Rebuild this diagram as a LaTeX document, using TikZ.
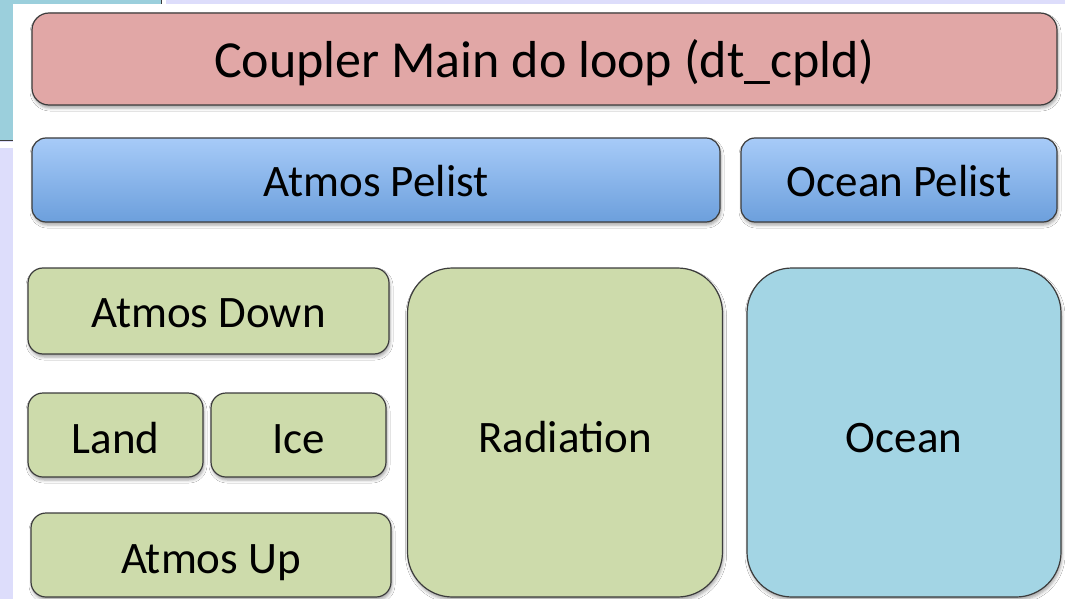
\documentclass[tikz,border=0pt]{standalone}
\usepackage{fontspec}
\setmainfont{Carlito}
\usepackage{tikz}
\usetikzlibrary{shadows.blur}
\definecolor{slidebg}{RGB}{221,221,251}
\definecolor{panelcyan}{RGB}{155,207,220}
\definecolor{cplpink}{RGB}{225,167,166}
\definecolor{peltop}{RGB}{167,203,248}
\definecolor{pelbot}{RGB}{108,159,220}
\definecolor{compgreen}{RGB}{205,219,171}
\definecolor{ocnblue}{RGB}{163,213,228}
\definecolor{edgegray}{RGB}{60,60,60}
\tikzset{
  font={\fontsize{45pt}{54pt}\selectfont},
  box/.style={draw=edgegray, line width=1.2pt, rounded corners=15pt, inner sep=0pt,
    align=center, text=black, text height=32pt, text depth=0pt,
    blur shadow={shadow xshift=1pt, shadow yshift=-3pt, shadow blur radius=3pt, shadow opacity=35}},
  coupler/.style={box, fill=cplpink, rounded corners=17pt, text height=37pt,
    font={\fontsize{52pt}{62pt}\selectfont}},
  pelist/.style={box, top color=peltop, bottom color=pelbot, rounded corners=14pt},
  comp/.style={box, fill=compgreen},
  bigcomp/.style={box, rounded corners=45pt, text height=39pt}}

\begin{document}
\begin{tikzpicture}[x=1pt, y=-1pt]
  \useasboundingbox (0,0) rectangle (1065,599);
  % slide behind the picture
  \fill[slidebg] (0,0) rectangle (1065,599);
  \fill[panelcyan] (0,0) rectangle (161,141);
  \draw[edgegray, line width=1pt] (161,0) -- (161,141) -- (0,141);
  \fill[white] (162,0) rectangle (166,4);
  \fill[white] (0,142) rectangle (13,148);
  \fill[white] (13,4) rectangle (1065,599);

  \node (cpl) [coupler, minimum width=1025pt, minimum height=92pt] at (544.5,59) {Coupler Main do loop (dt\_cpld)};
  \node (atmpe) [pelist, minimum width=688pt, minimum height=84pt] at (376,180) {Atmos Pelist};
  \node (ocnpe) [pelist, minimum width=316pt, minimum height=84pt] at (899,180) {Ocean Pelist};
  \node (atmdn) [comp, minimum width=361pt, minimum height=86pt] at (208.5,311) {Atmos Down};
  \node (land) [comp, text height=36pt, minimum width=175pt, minimum height=84pt] at (115.5,435) {Land};
  \node (ice) [comp, text height=36pt, minimum width=175pt, minimum height=84pt] at (298.5,435) {Ice};
  \node (atmup) [comp, text height=36pt, minimum width=360pt, minimum height=84pt] at (211,555) {Atmos Up};
  \node (rad) [bigcomp, fill=compgreen, minimum width=315pt, minimum height=329pt] at (565,432.5) {Radiation};
  \node (ocn) [bigcomp, fill=ocnblue, minimum width=314pt, minimum height=329pt] at (904,432.5) {Ocean};
\end{tikzpicture}
\end{document}
